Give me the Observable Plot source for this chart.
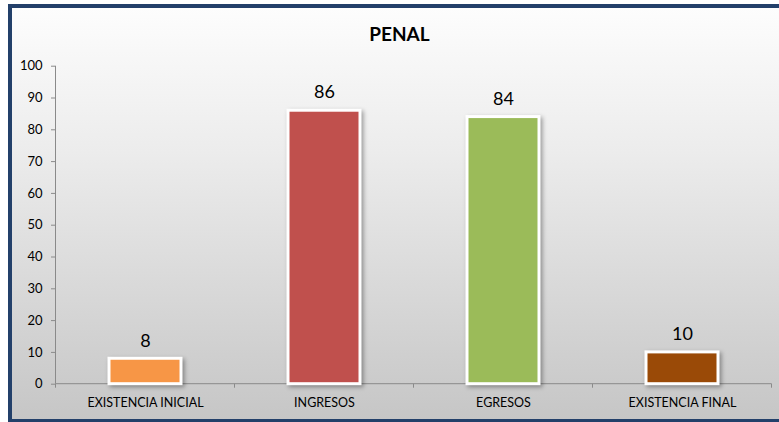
<!DOCTYPE html>
<html>
<head>
<meta charset="utf-8">
<script src="https://cdn.jsdelivr.net/npm/d3@7"></script>
<script src="https://cdn.jsdelivr.net/npm/@observablehq/plot@0.6"></script>
<style>
  html, body { margin: 0; padding: 0; width: 779px; height: 422px; overflow: hidden; background: #fff; }
  #frame {
    position: absolute; left: 8px; top: 4px; width: 800px; height: 411px;
    border: 4px solid #23406a;
    background: linear-gradient(to bottom, #fdfdfd 0%, #ececec 35%, #c6c6c6 100%);
  }
  #title {
    position: absolute; left: 0; top: 22px; width: 799px; text-align: center;
    font-family: Lato, "Open Sans", sans-serif; font-weight: bold; font-size: 19px; color: #000;
  }
  #chart { position: absolute; left: 0; top: 0; }
  #chart svg { background: transparent; overflow: visible; }
  #chart g[aria-label="bar"] rect { filter: drop-shadow(2px 2px 2px rgba(0,0,0,0.35)); }
</style>
</head>
<body>
<div id="frame"></div>
<div id="title">PENAL</div>
<div id="chart"></div>
<script>
const categories = ["EXISTENCIA INICIAL", "INGRESOS", "EGRESOS", "EXISTENCIA FINAL"];
const values = [8, 86, 84, 10];
const colors = ["#F79646", "#C0504D", "#9BBB59", "#9A4A07"];
const yTicks = [0, 10, 20, 30, 40, 50, 60, 70, 80, 90, 100];

const data = categories.map((c, i) => ({category: c, value: values[i], color: colors[i]}));

// Excel-style axis lines: y-axis line and category separator ticks
function axisLines(index, scales, values, dimensions) {
  const x = scales.x, y = scales.y;
  const step = x.step(), bw = x.bandwidth();
  const y0 = y(0), yTop = y(100);
  const g = d3.create("svg:g").attr("stroke", "#8a8a8a").attr("stroke-width", 1);
  const edges = categories.map(c => x(c) + bw / 2 - step / 2);
  edges.push(x(categories[categories.length - 1]) + bw / 2 + step / 2);
  for (const e of edges) {
    g.append("line").attr("x1", e).attr("x2", e).attr("y1", y0).attr("y2", y0 + 4);
  }
  g.append("line").attr("x1", edges[0]).attr("x2", edges[0]).attr("y1", yTop).attr("y2", y0);
  g.append("line").attr("x1", edges[0]).attr("x2", edges[edges.length - 1]).attr("y1", y0).attr("y2", y0);
  return g.node();
}

const chart = Plot.plot({
  width: 779,
  height: 422,
  marginLeft: 55,
  marginRight: 7,
  marginTop: 65.7,
  marginBottom: 38.3,
  style: {fontFamily: "Lato, 'Open Sans', sans-serif", fontSize: "13px", color: "#000", background: "transparent"},
  x: {domain: categories, paddingInner: 0.6, paddingOuter: 0.3, label: null},
  y: {domain: [0, 100], label: null},
  marks: [
    Plot.axisY({ticks: yTicks, tickSize: 4, tickPadding: 9, stroke: "#8a8a8a", strokeOpacity: 1, fill: "#000", fontSize: 13, label: null}),
    Plot.axisX({tickSize: 0, tickPadding: 14, fill: "#000", fontSize: 12.5, label: null}),
    axisLines,
    Plot.barY(data, {x: "category", y: "value", fill: "color", stroke: "white", strokeWidth: 3}),
    Plot.text(data, {x: "category", y: "value", text: d => String(d.value), dy: -18, fontSize: 18, fill: "#000"})
  ]
});
document.getElementById("chart").appendChild(chart);
</script>
</body>
</html>
